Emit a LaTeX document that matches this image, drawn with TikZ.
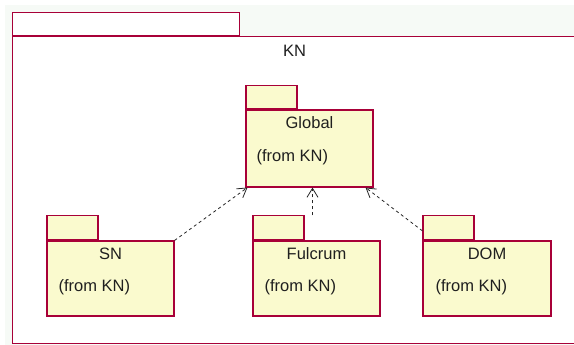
\documentclass[tikz,border=0pt]{standalone}
\usepackage{fontspec}
\setmainfont{Liberation Sans}
\usetikzlibrary{arrows.meta}
\usetikzlibrary{positioning}
\definecolor{pkgline}{RGB}{168,0,56}
\definecolor{pkgfill}{RGB}{250,250,206}
\definecolor{canvas}{RGB}{246,250,246}

\begin{document}
\begin{tikzpicture}[x=1pt,y=-1pt,>={Straight Barb[length=9pt,width=11pt]},
		font=\fontsize{16.5}{19}\selectfont]
		\tikzstyle{pkgbody}=[rectangle,draw=pkgline,fill=pkgfill,line width=1.1pt,
			minimum width=127pt,minimum height=75pt,inner sep=0pt];
		\tikzstyle{pkgtab}=[pkgbody,minimum width=51pt,minimum height=24pt,anchor=south west];
		\tikzstyle{pkgname}=[inner sep=0pt,text=black!88,anchor=base];
		\tikzstyle{pkgfrom}=[pkgname,anchor=base west];
		\tikzstyle{dep}=[->,dash pattern=on 3pt off 3pt,line width=0.8pt,black!85];
		\useasboundingbox(0,0)rectangle(574,345);
		\clip(0,0)rectangle(574,345);
		\fill[canvas](5,5)rectangle(580,350);

		% KN
		\node[pkgbody,fill=white,minimum width=564pt,minimum height=307pt,anchor=north west](kn) at (12,36){};
		\node[pkgtab,fill=white,minimum width=227pt,minimum height=23pt](kntab) at (kn.north west){};
		\node[pkgname](knname) at ([yshift=-21pt]kn.north){KN};

		% Global
		\node[pkgbody,minimum height=77pt](global) at (309.5,148.5){};
		\node[pkgtab,minimum height=23pt](globaltab) at (global.north west){};
		\node[pkgname](globalname) at ([yshift=-19pt]global.north){Global};
		\node[pkgfrom](globalfrom) at ([xshift=11pt,yshift=-52pt]global.north west){(from KN)};

		% SN, Fulcrum, DOM
		\node[pkgbody](sn) at (110.5,278.5){};
		\node[pkgtab](sntab) at (sn.north west){};
		\node[pkgname](snname) at ([yshift=-19pt]sn.north){SN};
		\node[pkgfrom](snfrom) at ([xshift=12pt,yshift=-51pt]sn.north west){(from KN)};

		\node[pkgbody](fulcrum) at (316.5,278.5){};
		\node[pkgtab](fulcrumtab) at (fulcrum.north west){};
		\node[pkgname](fulcrumname) at ([yshift=-19pt]fulcrum.north){Fulcrum};
		\node[pkgfrom](fulcrumfrom) at ([xshift=12pt,yshift=-51pt]fulcrum.north west){(from KN)};

		\node[pkgbody,minimum width=128pt](dom) at (487,278.5){};
		\node[pkgtab](domtab) at (dom.north west){};
		\node[pkgname](domname) at ([yshift=-19pt]dom.north){DOM};
		\node[pkgfrom](domfrom) at ([xshift=13pt,yshift=-51pt]dom.north west){(from KN)};

		\draw[dep](sn.north east)--([xshift=2pt]global.south west);
		\draw[dep]([xshift=3pt]fulcrumtab.north-|global.south)--([xshift=3pt]global.south);
		\draw[dep]([yshift=-3pt]domtab.west)--([xshift=-8pt]global.south east);
	\end{tikzpicture}
\end{document}
